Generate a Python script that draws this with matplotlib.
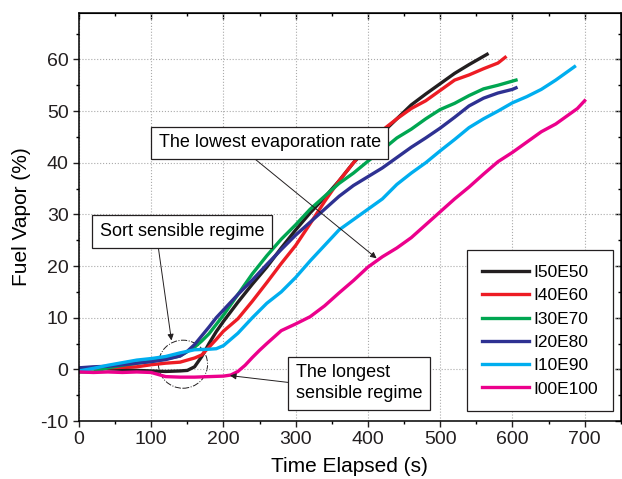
import matplotlib
matplotlib.use("Agg")
import matplotlib.pyplot as plt
from matplotlib.patches import Ellipse
from matplotlib.ticker import MultipleLocator

plt.rcParams['font.family'] = ['Liberation Sans', 'DejaVu Sans']
plt.rcParams['axes.unicode_minus'] = False

# series: time (s), fuel vapor (%)
t_i50 = [0, 20, 40, 60, 80, 100, 120, 140, 150, 160, 170, 180, 190, 200, 220, 240, 260, 280,
         300, 320, 340, 360, 380, 400, 420, 440, 460, 480, 500, 520, 540, 555, 565]
v_i50 = [0.2, 0.3, 0.1, 0.0, -0.2, -0.3, -0.4, -0.3, -0.2, 0.5, 2.5, 5.0, 7.3, 9.3, 13.0, 16.5, 19.8, 23.5,
         27.0, 30.3, 33.3, 36.5, 40.0, 43.0, 45.8, 48.5, 51.2, 53.3, 55.3, 57.3, 59.0, 60.2, 61.0]

t_i40 = [0, 20, 40, 60, 80, 100, 120, 140, 160, 170, 180, 190, 200, 220, 240, 260, 280, 300,
         320, 340, 360, 380, 400, 420, 440, 460, 480, 500, 520, 540, 560, 580, 590]
v_i40 = [0.0, 0.2, 0.3, 0.4, 0.5, 0.9, 1.2, 1.4, 2.2, 2.8, 4.3, 5.8, 7.4, 9.8, 13.2, 16.8, 20.5, 24.0,
         28.2, 32.5, 36.5, 40.0, 43.3, 46.3, 48.5, 50.5, 52.0, 54.0, 56.0, 57.0, 58.2, 59.3, 60.4]

t_i30 = [0, 20, 40, 60, 80, 100, 120, 140, 160, 170, 180, 200, 220, 240, 260, 280, 300, 320,
         340, 360, 380, 400, 420, 440, 460, 480, 500, 520, 540, 560, 580, 600, 605]
v_i30 = [-0.5, -0.5, 0.3, 0.8, 1.2, 1.6, 2.0, 2.6, 4.3, 5.5, 6.9, 10.5, 14.5, 18.5, 22.0, 25.2, 28.0, 31.0,
         33.5, 36.0, 38.0, 40.3, 42.5, 44.8, 46.5, 48.5, 50.3, 51.5, 53.0, 54.3, 55.0, 55.8, 56.0]

t_i20 = [0, 20, 40, 60, 80, 100, 120, 140, 150, 160, 170, 180, 190, 200, 220, 240, 260, 280,
         300, 320, 340, 360, 380, 400, 420, 440, 460, 480, 500, 520, 540, 560, 580, 600, 605]
v_i20 = [0.3, 0.5, 0.6, 0.9, 1.2, 1.5, 1.9, 2.6, 3.5, 4.8, 6.5, 8.2, 10.0, 11.5, 14.5, 17.3, 20.3, 23.2,
         26.0, 28.5, 31.0, 33.5, 35.6, 37.3, 39.0, 41.0, 43.0, 44.8, 46.7, 48.8, 51.0, 52.5, 53.5, 54.2, 54.5]

t_i10 = [0, 20, 40, 60, 80, 100, 120, 140, 160, 180, 190, 200, 220, 240, 260, 280, 300, 320, 340,
         360, 380, 400, 420, 440, 460, 480, 500, 520, 540, 560, 580, 600, 620, 640, 660, 680, 686]
v_i10 = [-0.3, 0.2, 0.8, 1.3, 1.8, 2.1, 2.5, 3.2, 3.8, 3.9, 4.0, 4.6, 7.0, 10.0, 12.8, 15.0, 17.8, 21.0, 24.0,
         27.0, 29.0, 31.0, 33.0, 35.8, 38.0, 40.0, 42.3, 44.5, 46.8, 48.5, 50.0, 51.6, 52.8, 54.2, 56.0, 58.0, 58.6]

t_i00 = [0, 20, 40, 60, 80, 100, 110, 120, 140, 160, 180, 200, 210, 220, 230, 240, 250, 260, 280,
         300, 320, 340, 360, 380, 400, 420, 440, 460, 480, 500, 520, 540, 560, 580, 600, 620, 640,
         660, 680, 690, 700]
v_i00 = [-0.5, -0.6, -0.5, -0.6, -0.5, -0.6, -1.0, -1.4, -1.5, -1.5, -1.4, -1.3, -1.1, -0.4, 0.8, 2.3, 3.7, 5.0, 7.5,
         8.8, 10.2, 12.3, 14.8, 17.2, 19.8, 21.8, 23.5, 25.5, 28.0, 30.5, 33.0, 35.3, 37.8, 40.2, 42.0, 44.0, 46.0,
         47.5, 49.5, 50.5, 52.0]

labels = ['I50E50', 'I40E60', 'I30E70', 'I20E80', 'I10E90', 'I00E100']
colors = ['#231f20', '#ed1c24', '#00a651', '#2e3192', '#00aeef', '#ec008c']
series = [(t_i50, v_i50), (t_i40, v_i40), (t_i30, v_i30),
          (t_i20, v_i20), (t_i10, v_i10), (t_i00, v_i00)]

fig = plt.figure(figsize=(6.22, 4.79), dpi=100)
ax = fig.add_axes([0.127, 0.121, 0.871, 0.852])

for (t, v), lab, c in zip(series, labels, colors):
    ax.plot(t, v, color=c, lw=2.4, label=lab)

ax.set_xticks(range(0, 800, 100))
ax.set_xlim(0, 750)
ax.set_ylim(-10, 69)
ax.xaxis.set_minor_locator(MultipleLocator(50))
ax.yaxis.set_major_locator(MultipleLocator(10))
ax.yaxis.set_minor_locator(MultipleLocator(5))
ax.grid(True, which='major', color='#aaaaaa', ls=':', lw=0.8)
ax.tick_params(which='major', direction='out', length=4, width=1, labelsize=14, colors='#231f20')
ax.tick_params(which='minor', direction='out', length=2.5, width=1)
for s in ax.spines.values():
    s.set_linewidth(1.1)

# mirrored ticks pointing inward on top and right
top = ax.secondary_xaxis('top')
top.xaxis.set_major_locator(MultipleLocator(100))
top.xaxis.set_minor_locator(MultipleLocator(50))
top.tick_params(which='both', direction='in', labeltop=False, width=1)
top.tick_params(which='major', length=4)
top.tick_params(which='minor', length=2.5)
right = ax.secondary_yaxis('right')
right.yaxis.set_major_locator(MultipleLocator(10))
right.yaxis.set_minor_locator(MultipleLocator(5))
right.tick_params(which='both', direction='in', labelright=False, width=1)
right.tick_params(which='major', length=4)
right.tick_params(which='minor', length=2.5)

ax.set_xlabel('Time Elapsed (s)', fontsize=15, labelpad=6)
ax.set_ylabel('Fuel Vapor (%)', fontsize=15)
ax.yaxis.set_label_coords(-0.089, 0.5)

box = dict(boxstyle='square,pad=0.42', fc='white', ec='#231f20', lw=0.9)
arrow = dict(arrowstyle='-|>', color='#231f20', lw=0.7, mutation_scale=9, shrinkA=0, shrinkB=0)

ax.annotate('The lowest evaporation rate', xy=(412, 21.5), xytext=(264, 43.9),
            ha='center', va='center', fontsize=13, bbox=box,
            arrowprops=dict(arrow, relpos=(0.39, 0)))
ax.annotate('Sort sensible regime', xy=(128, 5.6), xytext=(142.5, 26.7),
            ha='center', va='center', fontsize=13, bbox=box,
            arrowprops=dict(arrow, relpos=(0.35, 0)))
ax.annotate('The longest\nsensible regime', xy=(209, -1.2), xytext=(388, -2.7),
            ha='center', va='center', multialignment='left', fontsize=13, linespacing=1.3,
            bbox=dict(box, pad=0.4), arrowprops=dict(arrow, relpos=(0, 0.5)))

ax.add_patch(Ellipse((144, 1.0), 68, 9.3, fill=False, ec='#231f20', lw=0.7, ls='-.'))

leg = ax.legend(loc='upper left', bbox_to_anchor=(0.716, 0.419), borderaxespad=0, fontsize=12.5,
                frameon=True, fancybox=False, edgecolor='#231f20', framealpha=1,
                handlelength=2.7, handletextpad=0.3, labelspacing=0.47, borderpad=0.85)
leg.get_frame().set_linewidth(0.9)

fig.savefig('out.png', dpi=100)
